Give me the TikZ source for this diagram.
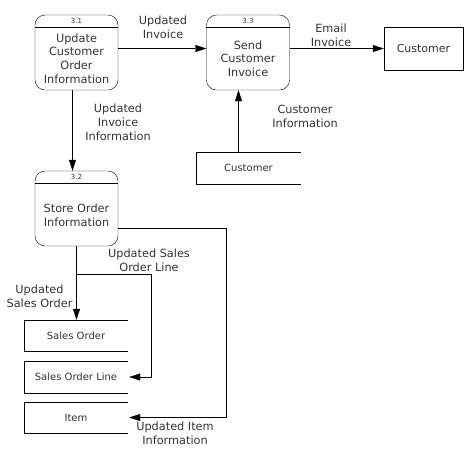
\documentclass[tikz,border=0pt]{standalone}
\usepackage{fontspec}
\setmainfont{DejaVu Sans}
\usetikzlibrary{positioning,arrows.meta,calc}

\newcommand{\storelines}[1]{\draw (#1.north east) -- (#1.north west) -- (#1.south west) -- (#1.south east);}

\begin{document}
\begin{tikzpicture}[%
		x=1pt, y=-1pt,
		>={Triangle[length=11pt,width=7pt]},
		every node/.style={text=black!80},
		flow/.style={->, draw},
		process/.style={%
			draw,
			rounded corners=10pt,
			minimum width=83pt,
			minimum height=75pt
		},
		ptext/.style={align=center, font=\fontsize{11.3}{13.6}\selectfont},
		pnum/.style={font=\fontsize{7}{8}\selectfont},
		store/.style={%
			minimum width=104pt,
			minimum height=31pt,
			font=\fontsize{10}{12}\selectfont
		},
		entity/.style={%
			draw,
			minimum width=79pt,
			minimum height=43pt,
			font=\fontsize{11}{13}\selectfont
		},
		flowlabel/.style={align=center, font=\fontsize{11.3}{14}\selectfont}
		]
		\useasboundingbox (0,0) rectangle (466,448);
		
		% processes
		\node[process] (p31) at (76.5,52.5)  {};
		\node[process] (p33) at (248,52.5)   {};
		\node[process] (p32) at (76.5,208.5) {};
		\foreach \p/\n in {p31/3.1, p33/3.3, p32/3.2} {
			\draw ([yshift=-12pt]\p.north west) -- ([yshift=-12pt]\p.north east);
			\node[pnum] (\p n) at ($(\p.north)+(0,6.5)$) {\n};
		}
		\node[ptext] (p31t) at ($(p31.center)+(0,6)$) {Update\\Customer\\Order\\Information};
		\node[ptext] (p33t) at ($(p33.center)+(0,6)$) {Send\\Customer\\Invoice};
		\node[ptext] (p32t) at ($(p32.center)+(0,6.5)$) {Store Order\\Information};
		
		% entity and stores
		\node[entity] (cust)   at (423.5,48.5) {Customer};
		\node[store]  (custds) at (248.5,168)  {Customer};
		\node[store]  (so)     at (76,335.5)   {Sales Order};
		\node[store]  (sol)    at (76,377)     {Sales Order Line};
		\node[store]  (item)   at (76,417.5)   {Item};
		\foreach \s in {custds, so, sol, item} {\storelines{\s}}
		
		% flows
		\draw[flow] ([yshift=4pt]p31.east) -- ([yshift=4pt]p33.west);
		\draw[flow] (p33.east |- cust.west) -- (cust.west);
		\draw[flow] ([xshift=-4pt]p31.south) -- ([xshift=-4pt]p32.north);
		\draw[flow] ([xshift=-10pt]custds.north) -- ([xshift=-10pt]custds.north |- p33.south);
		\draw[flow] (p32.south) -- (p32.south |- so.north);
		\coordinate (j1) at ($(p32.south)+(0,28)$);
		\coordinate (j2) at ($(sol.east)+(23,0)$);
		\draw[flow] (j1) -| (j2) -- ([xshift=1pt]sol.east);
		\coordinate (j3) at ($(p32.east)+(0,19.5)$);
		\coordinate (j4) at ($(item.east)+(98,0)$);
		\draw[flow] (j3) -| (j4) -- ([xshift=1pt]item.east);
		
		% flow labels
		\node[flowlabel] (l1) at (163,27)  {Updated\\Invoice};
		\node[flowlabel] (l2) at (331,35)  {Email\\Invoice};
		\node[flowlabel] (l3) at (305,116) {Customer\\Information};
		\node[flowlabel] (l4) at (118,122) {Updated\\Invoice\\Information};
		\node[flowlabel] (l5) at (149,260) {Updated Sales\\Order Line};
		\node[flowlabel] (l6) at (39.5,296) {Updated\\Sales Order};
		\node[flowlabel] (l7) at (175,433) {Updated Item\\Information};
\end{tikzpicture}
\end{document}
